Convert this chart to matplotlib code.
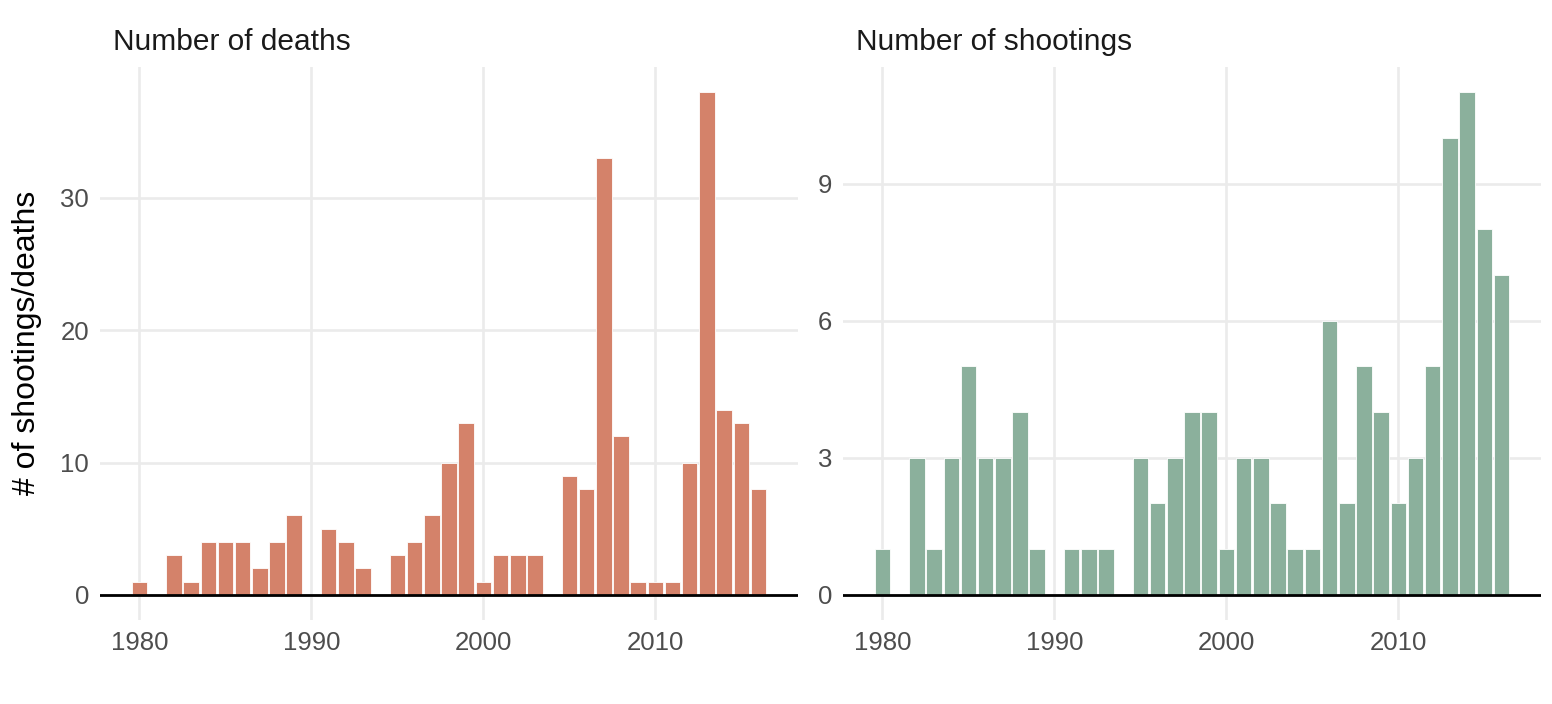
import matplotlib
matplotlib.use("Agg")
import matplotlib.pyplot as plt

plt.rcParams['font.family'] = ['Liberation Sans', 'DejaVu Sans']

years = list(range(1980, 2017))
deaths = [1, 0, 3, 1, 4, 4, 4, 2, 4, 6,
          0, 5, 4, 2, 0, 3, 4, 6, 10, 13,
          1, 3, 3, 3, 0, 9, 8, 33, 12, 1,
          1, 1, 10, 38, 14, 13, 8]
shootings = [1, 0, 3, 1, 3, 5, 3, 3, 4, 1,
             0, 1, 1, 1, 0, 3, 2, 3, 4, 4,
             1, 3, 3, 2, 1, 1, 6, 2, 5, 4,
             2, 3, 5, 10, 11, 8, 7]
x_ticks = [1980, 1990, 2000, 2010]
death_ticks = [0, 10, 20, 30]
shooting_ticks = [0, 3, 6, 9]

W, H = 1552, 704
fig = plt.figure(figsize=(W / 100, H / 100), dpi=100)

grid_col = '#EBEBEB'
tick_col = '#4D4D4D'


def panel(left_px, values, color, yticks, title):
    ax = fig.add_axes([left_px / W, (H - 620) / H, 698 / W, (620 - 67) / H])
    ax.bar(years, values, width=0.9, color=color, edgecolor='white',
           linewidth=0.6, zorder=2)
    ymax = max(values)
    ax.set_xlim(1979.55 - 0.05 * 36.9, 2016.45 + 0.05 * 36.9)
    ax.set_ylim(-0.05 * ymax, ymax * 1.05)
    ax.set_xticks(x_ticks)
    ax.set_yticks(yticks)
    ax.grid(True, color=grid_col, linewidth=1.9, zorder=0)
    ax.set_axisbelow(True)
    ax.axhline(0, color='black', linewidth=2.0, zorder=3)
    for s in ax.spines.values():
        s.set_visible(False)
    ax.tick_params(length=0, labelsize=18.5, labelcolor=tick_col, pad=8)
    ax.set_title(title, loc='left', fontsize=21.5, color='#1A1A1A', pad=12,
                 x=(13 / 698))
    return ax


ax1 = panel(100, deaths, '#D4826A', death_ticks, 'Number of deaths')
ax2 = panel(843, shootings, '#8BB09C', shooting_ticks, 'Number of shootings')

fig.text(27 / W, 1 - 343 / H, '# of shootings/deaths', rotation=90,
         ha='center', va='center', fontsize=23, color='black')

fig.savefig('out.png', dpi=100, facecolor='white')
